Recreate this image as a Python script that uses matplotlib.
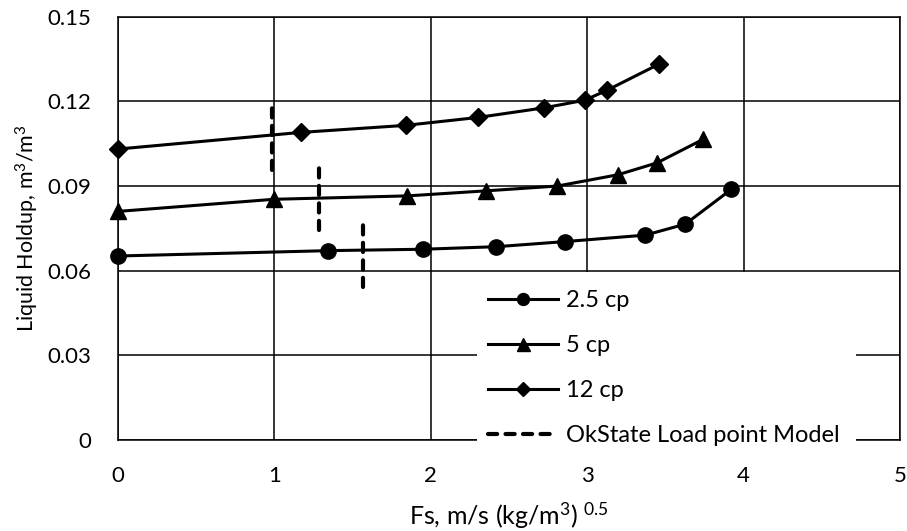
import numpy as np
import matplotlib
matplotlib.use('Agg')
from matplotlib import pyplot as plt
from matplotlib.patches import Rectangle

plt.rcParams['font.family'] = ['Lato', 'DejaVu Sans']
plt.rcParams['mathtext.fontset'] = 'custom'
plt.rcParams['mathtext.rm'] = 'Lato'
plt.rcParams['mathtext.it'] = 'Lato'
plt.rcParams['mathtext.bf'] = 'Lato'

# holdup vs. gas F-factor, three liquid viscosities
fs_25 = [0.0, 1.345, 1.952, 2.42, 2.856, 3.372, 3.627, 3.921]
hl_25 = [0.0652, 0.0671, 0.0676, 0.0685, 0.0703, 0.0726, 0.0765, 0.0888]

fs_5 = [0.0, 0.997, 1.849, 2.356, 2.81, 3.197, 3.446, 3.740]
hl_5 = [0.0810, 0.0853, 0.0865, 0.0883, 0.0900, 0.0940, 0.0982, 0.1065]

fs_12 = [0.0, 1.169, 1.840, 2.302, 2.724, 2.984, 3.129, 3.459]
hl_12 = [0.1031, 0.1090, 0.1115, 0.1143, 0.1177, 0.1204, 0.1240, 0.1332]

# OkState load point model: F-factor and holdup range of each marker
load_fs = [0.982, 1.284, 1.565]
load_lo = [0.0957, 0.0744, 0.0543]
load_hi = [0.1204, 0.0992, 0.0791]

xticks = [0, 1, 2, 3, 4, 5]
yticks = [0, 0.03, 0.06, 0.09, 0.12, 0.15]
ytick_labels = ['0', '0.03', '0.06', '0.09', '0.12', '0.15']

fig = plt.figure(figsize=(9.07, 5.31), dpi=100)
ax = fig.add_axes([118 / 907, 91 / 531, 782 / 907, 423.3 / 531])

lw = 2.2
ax.plot(fs_25, hl_25, 'k-', marker='o', ms=11, lw=lw, label='2.5 cp', clip_on=False, zorder=3)
ax.plot(fs_5, hl_5, 'k-', marker='^', ms=12, lw=lw, label='5 cp', clip_on=False, zorder=3)
ax.plot(fs_12, hl_12, 'k-', marker='D', ms=9.5, lw=lw, label='12 cp', clip_on=False, zorder=3)

for i, (x, lo, hi) in enumerate(zip(load_fs, load_lo, load_hi)):
    ax.plot([x, x], [lo, hi], color='k', lw=3.0, linestyle=(0, (2.2, 2.0)),
            dash_capstyle='round', zorder=3,
            label='OkState Load point Model' if i == 0 else None)

ax.set_xlim(0, 5)
ax.set_ylim(0, 0.15)
ax.set_xticks(xticks)
ax.set_yticks(yticks)
ax.set_yticklabels(ytick_labels)
ax.tick_params(length=0, labelsize=16)
ax.tick_params(axis='x', pad=19)
ax.tick_params(axis='y', pad=19)
ax.grid(True, color='k', lw=1.1)
ax.set_axisbelow(True)
for sp in ax.spines.values():
    sp.set_linewidth(1.1)

ax.set_xlabel('Fs, m/s (kg/m$^3$) $^{0.5}$', fontsize=18, labelpad=10)
ax.set_ylabel('Liquid Holdup, m$^3$/m$^3$', fontsize=15.5, labelpad=5)

# white legend area that sits over the grid and the bottom axis
ax.add_patch(Rectangle((0.459, -0.006), 0.485, 0.403, transform=ax.transAxes,
                       facecolor='white', edgecolor='none', zorder=4, clip_on=False))
leg = ax.legend(loc='upper left', bbox_to_anchor=(0.473, 0.354), frameon=False,
                fontsize=17, handlelength=2.95, handletextpad=0.34, labelspacing=1.02,
                borderpad=0, borderaxespad=0, markerscale=0.78)
leg.set_zorder(5)

fig.savefig('out.png', dpi=100)
